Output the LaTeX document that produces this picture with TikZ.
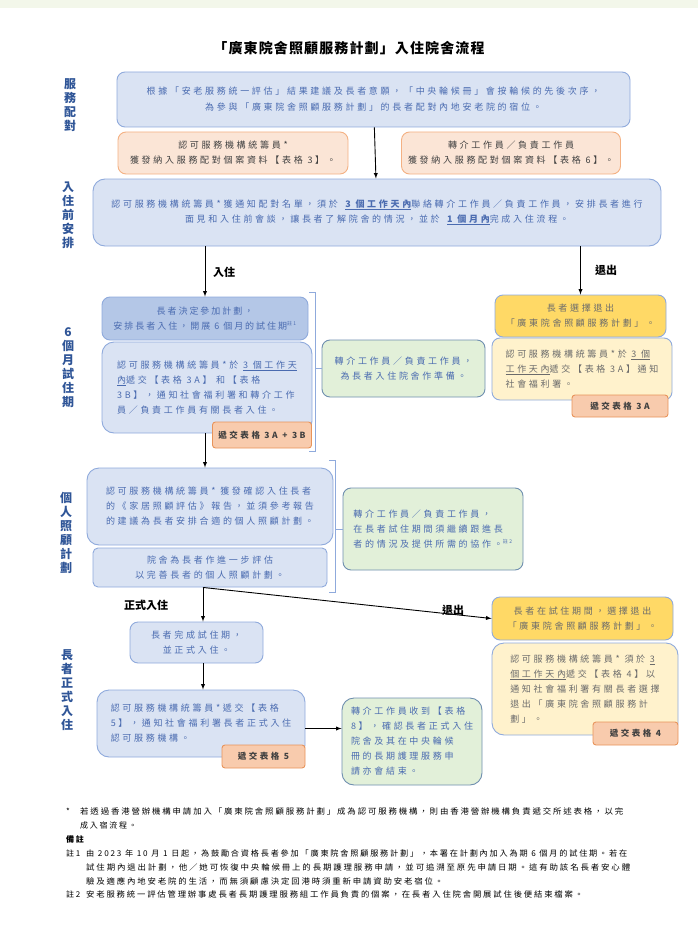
\documentclass[tikz,border=0pt]{standalone}
\usepackage{fontspec}
\setmainfont{Noto Sans CJK TC}
\newfontfamily\boxfont{Noto Sans CJK TC}[LetterSpace=30]
\newfontfamily\notefont{Noto Sans CJK TC}[LetterSpace=22]
\usepackage{graphicx}
\usepackage{xcolor}
\usepackage{tikz}
\usetikzlibrary{calc}

\newcommand{\fitline}[2]{\resizebox{#1}{\height}{#2}}

\definecolor{stageblue}{HTML}{2F5597}
\definecolor{boxtext}{HTML}{4A6BB0}
\definecolor{darktext}{HTML}{404040}
\definecolor{graytext}{HTML}{6B6B6B}
\definecolor{bluefill}{HTML}{DAE3F3}
\definecolor{deepbluefill}{HTML}{B4C7E7}
\definecolor{blueline}{HTML}{8FAADC}
\definecolor{orangefill}{HTML}{FBE5D6}
\definecolor{orangeline}{HTML}{F4B183}
\definecolor{tagfill}{HTML}{F8CBAD}
\definecolor{tagline}{HTML}{E8935A}
\definecolor{greenfill}{HTML}{E2F0D9}
\definecolor{greenline}{HTML}{6F8FAF}
\definecolor{goldfill}{HTML}{FFD966}
\definecolor{paleyellow}{HTML}{FFF2CC}
\definecolor{topband}{HTML}{F3F7EA}

\tikzset{
    flowbox/.style={draw, line width=0.9pt, rounded corners=8pt, inner sep=2pt,
        font=\boxfont\fontsize{9}{15}\selectfont, text=boxtext, align=center},
    bluebox/.style={flowbox, draw=blueline, fill=bluefill},
    deepbluebox/.style={flowbox, draw=blueline, fill=deepbluefill},
    orangebox/.style={flowbox, draw=orangeline, fill=orangefill, text=darktext},
    greenbox/.style={flowbox, draw=greenline, fill=greenfill},
    goldbox/.style={flowbox, draw=blueline, fill=goldfill, text=graytext},
    paleyellowbox/.style={flowbox, draw=blueline, fill=paleyellow, text=graytext},
    tagbox/.style={draw=tagline, fill=tagfill, line width=0.9pt, rounded corners=3pt,
        font=\boxfont\bfseries\fontsize{8.5}{10}\selectfont, text=darktext},
    stagelabel/.style={font=\bfseries\fontsize{12}{14}\selectfont, text=stageblue, align=center},
    pathlabel/.style={font=\bfseries\fontsize{11}{13}\selectfont},
    flowarrow/.style={-latex, line width=0.9pt},
    braceline/.style={draw=blueline, line width=0.9pt},
    footnote/.style={anchor=base west, inner sep=0pt, font=\notefont\fontsize{8}{10}\selectfont}
}

\begin{document}
\begin{tikzpicture}[x=1pt, y=-1pt]
    \useasboundingbox (0, 0) rectangle (698, 939);
    \fill [topband] (0, 0) rectangle (698, 8);

    \node [font=\bfseries\fontsize{14}{16}\selectfont\addfontfeature{LetterSpace=8}] (title) at (349, 48) {「廣東院舍照顧服務計劃」入住院舍流程};

    % stage labels on the left
    \node [stagelabel] (stagematch) at (70, 105) {服\\務\\配\\對};
    \node [stagelabel] (stageprep) at (68, 215) {入\\住\\前\\安\\排};
    \node [stagelabel] (stagetrial) at (68, 368) {6\\個\\月\\試\\住\\期};
    \node [stagelabel] (stagecare) at (66, 533) {個\\人\\照\\顧\\計\\劃};
    \node [stagelabel] (stageformal) at (67, 690) {長\\者\\正\\式\\入\\住};

    % matching
    \node [bluebox, minimum width=513, minimum height=55, font=\boxfont\fontsize{9}{16}\selectfont] (match) at (373.5, 99.5)
        {根據「安老服務統一評估」結果建議及長者意願，「中央輪候冊」會按輪候的先後次序，\\為參與「廣東院舍照顧服務計劃」的長者配對內地安老院的宿位。};
    \node [orangebox, minimum width=230, minimum height=42] (orgsvc) at (233, 153)
        {認可服務機構統籌員*\\獲發納入服務配對個案資料【表格 3】。};
    \node [orangebox, minimum width=219, minimum height=42] (orgref) at (511, 153)
        {轉介工作員／負責工作員\\獲發納入服務配對個案資料【表格 6】。};

    % before admission
    \node [bluebox, minimum width=568, minimum height=67, rounded corners=12pt] (arrive) at (377, 212.5)
        {認可服務機構統籌員*獲通知配對名單，須於 \textbf{\underline{3 個工作天內}}聯絡轉介工作員／負責工作員，安排長者進行\\面見和入住前會談，讓長者了解院舍的情況，並於 \textbf{\underline{1 個月內}}完成入住流程。};
    \draw [flowarrow] (match) -- (arrive);

    % six month trial
    \node [deepbluebox, minimum width=206, minimum height=43, font=\notefont\fontsize{9}{15}\selectfont] (decide) at (205, 318.5)
        {長者決定參加計劃，\\安排長者入住，開展 6 個月的試住期\textsuperscript{\tiny 註1}};
    \node [bluebox, minimum width=210, minimum height=91, align=left, rounded corners=12pt] (trialnote) at (207, 387.5)
        {認可服務機構統籌員*於 \underline{3 個工作天}\\\underline{內}遞交【表格 3A】 和【表格\\3B】，通知社會福利署和轉介工作\\員／負責工作員有關長者入住。};
    \node [tagbox, minimum width=99, minimum height=26] (tagthreeab) at (262, 435) {遞交表格 3A + 3B};
    \node [greenbox, minimum width=163, minimum height=57] (prep) at (403.5, 368.5)
        {轉介工作員／負責工作員，\\為長者入住院舍作準備。};
    \draw [braceline] (309, 292) -- (315, 292) -- (315, 451) -- (309, 451);
    \coordinate (braceone) at (315, 368.5);
    \draw [braceline] (braceone) -- (prep.west);

    \node [goldbox, minimum width=171, minimum height=42] (quit) at (580.5, 316)
        {長者選擇退出\\「廣東院舍照顧服務計劃」。};
    \node [paleyellowbox, minimum width=180, minimum height=62, align=left] (quitnote) at (582, 369)
        {認可服務機構統籌員*於 \underline{3 個}\\\underline{工作天內}遞交【表格 3A】通知\\社會福利署。};
    \node [tagbox, minimum width=96, minimum height=22] (tagthreea) at (620, 406) {遞交表格 3A};

    \draw [flowarrow] (arrive.south -| decide.north) -- (decide.north);
    \draw [flowarrow] (arrive.south -| quit.north) -- (quit.north);
    \node [pathlabel] (inlabel) at (224, 272) {入住};
    \node [pathlabel] (outlabel) at (606, 270) {退出};

    % personal care plan
    \node [bluebox, minimum width=246, minimum height=77, align=left, rounded corners=12pt] (careplan) at (210, 506.5)
        {認可服務機構統籌員* 獲發確認入住長者\\的《家居照顧評估》報告，並須參考報告\\的建議為長者安排合適的個人照顧計劃。};
    \node [bluebox, minimum width=234, minimum height=39, rounded corners=5pt] (assess) at (210, 567.5)
        {院舍為長者作進一步評估\\以完善長者的個人照顧計劃。};
    \node [greenbox, minimum width=180, minimum height=82, align=left] (follow) at (433, 529)
        {轉介工作員／負責工作員，\\在長者試住期間須繼續跟進長\\者的情況及提供所需的協作。\textsuperscript{\tiny 註2}};
    \draw [braceline] (329, 460) -- (335, 460) -- (335, 592) -- (329, 592);
    \coordinate (bracetwo) at (335, 529);
    \draw [braceline] (bracetwo) -- (follow.west);
    \draw [flowarrow] (trialnote.south -| decide.north) -- (careplan.north -| decide.north);

    % formal admission or exit
    \coordinate (split) at (assess.south -| 203, 0);
    \node [goldbox, minimum width=181, minimum height=43] (quittwo) at (582.5, 618.5)
        {長者在試住期間，選擇退出\\「廣東院舍照顧服務計劃」。};
    \node [paleyellowbox, minimum width=186, minimum height=92, align=left, rounded corners=12pt] (quittwonote) at (585, 689)
        {認可服務機構統籌員* 須於 \underline{3}\\\underline{個工作天內}遞交【表格 4】以\\通知社會福利署有關長者選擇\\退出「廣東院舍照顧服務計\\劃」。};
    \node [tagbox, minimum width=85, minimum height=23] (tagfour) at (635.5, 733.5) {遞交表格 4};

    \node [bluebox, minimum width=133, minimum height=41] (complete) at (196.5, 642.5)
        {長者完成試住期，\\並正式入住。};
    \node [bluebox, minimum width=208, minimum height=67, align=left, rounded corners=12pt] (formal) at (201, 723.5)
        {認可服務機構統籌員*遞交【表格\\5】，通知社會福利署長者正式入住\\認可服務機構。};
    \node [tagbox, minimum width=83, minimum height=23] (tagfive) at (263.5, 756.5) {遞交表格 5};
    \node [greenbox, minimum width=140, minimum height=87, align=left, rounded corners=12pt] (close) at (412, 741.5)
        {轉介工作員收到【表格\\8】，確認長者正式入住\\院舍及其在中央輪候\\冊的長期護理服務申\\請亦會結束。};

    \draw [flowarrow] (split) -- (split |- complete.north);
    \draw [flowarrow] (split) -- (quittwo.west);
    \draw [flowarrow] (complete.south -| split) -- (formal.north -| split);
    \draw [flowarrow] ([yshift=-5pt]formal.east) -- ([yshift=-5pt]formal.east -| close.west);
    \node [pathlabel] (formallabel) at (146, 605) {正式入住};
    \node [pathlabel] (exitlabel) at (453, 610) {退出};

    % notes
    \node [footnote] (starmark) at (66, 814) {*};
    \node [footnote] (starone) at (80, 814) {\fitline{543pt}{若透過香港營辦機構申請加入「廣東院舍照顧服務計劃」成為認可服務機構，則由香港營辦機構負責遞交所述表格，以完}};
    \node [footnote] (startwo) at (80, 828) {成入宿流程。};
    \node [footnote, font=\notefont\bfseries\fontsize{8}{10}\selectfont] (remarks) at (66, 842) {備註};
    \node [footnote] (noteonemark) at (66, 856) {註1};
    \node [footnote] (noteonea) at (86, 856) {\fitline{541pt}{由 2023 年 10 月 1 日起，為鼓勵合資格長者參加「廣東院舍照顧服務計劃」，本署在計劃內加入為期 6 個月的試住期。若在}};
    \node [footnote] (noteoneb) at (86, 870) {\fitline{544pt}{試住期內退出計劃，他／她可恢復中央輪候冊上的長期護理服務申請，並可追溯至原先申請日期。這有助該名長者安心體}};
    \node [footnote] (noteonec) at (86, 884) {\fitline{357pt}{驗及適應內地安老院的生活，而無須顧慮決定回港時須重新申請資助安老宿位。}};
    \node [footnote] (notetwomark) at (66, 897) {註2};
    \node [footnote] (notetwo) at (86, 897) {\fitline{497pt}{安老服務統一評估管理辦事處長者長期護理服務組工作員負責的個案，在長者入住院舍開展試住後便結束檔案。}};
\end{tikzpicture}
\end{document}
